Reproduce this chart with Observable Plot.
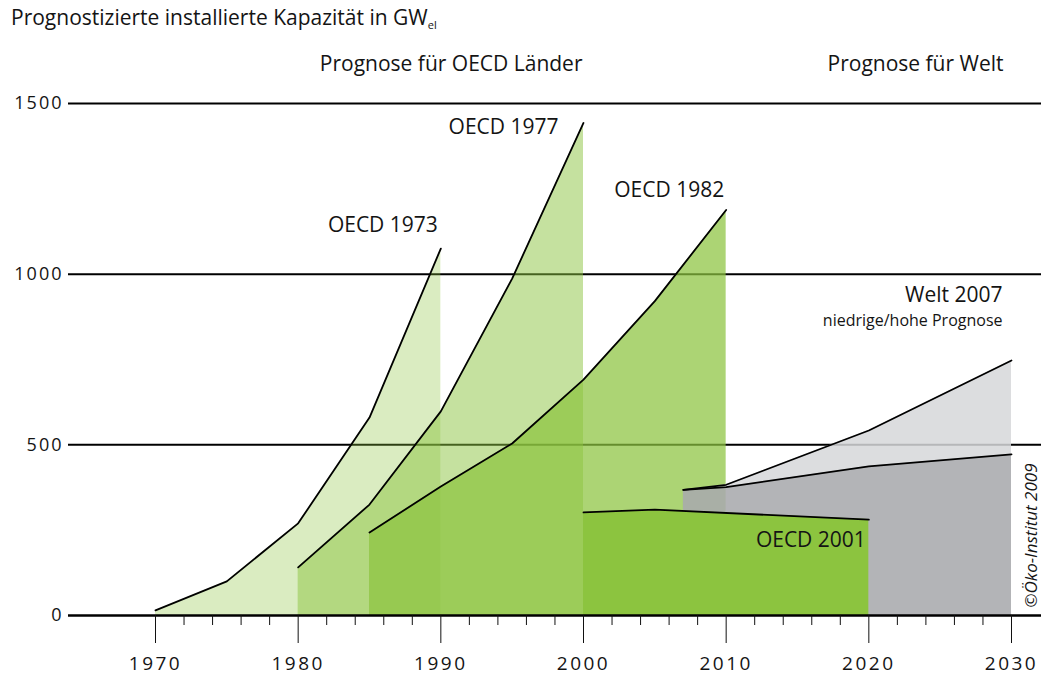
<!DOCTYPE html>
<html><head><meta charset="utf-8">
<script src="https://cdn.jsdelivr.net/npm/d3@7"></script>
<script src="https://cdn.jsdelivr.net/npm/@observablehq/plot@0.6"></script>
<style>
body{margin:0;background:#fff;font-family:'Open Sans',sans-serif;color:#141414;}
#title{height:38px;box-sizing:border-box;padding:7px 0 0 11px;font-size:21px;line-height:21px;white-space:nowrap;}
#title sub{font-size:11px;vertical-align:-4px;line-height:0;}
g[aria-label="y-axis tick label"] text{letter-spacing:2px;}
g[aria-label="x-axis tick label"] text{letter-spacing:2.5px;}
</style></head>
<body>
<div id="title">Prognostizierte installierte Kapazität in GW<sub>el</sub></div>
<div id="chart"></div>
<script>
// ---- data ----
const oecd1973Years = [1970, 1975, 1980, 1985, 1990];
const oecd1973 = [15, 100, 270, 580, 1075];
const oecd1977Years = [1980, 1985, 1990, 1995, 2000];
const oecd1977 = [141, 325, 598, 987, 1443];
const oecd1982Years = [1985, 1990, 1995, 2000, 2005, 2010];
const oecd1982 = [243, 378, 504, 691, 921, 1188];
const oecd2001Years = [2000, 2005, 2020];
const oecd2001 = [302, 310, 281];
const welt2007Years = [2007, 2010, 2020, 2030];
const welt2007Low = [368, 376, 437, 472];
const welt2007High = [368, 383, 542, 747];
const seriesNames = ["OECD 1973", "OECD 1977", "OECD 1982", "OECD 2001", "Welt 2007"];
const headers = ["Prognose für OECD Länder", "Prognose für Welt"];
const subLabel = "niedrige/hohe Prognose";
const credit = "©Öko-Institut 2009";
const yTicks = [0, 500, 1000, 1500];
const xMajorTicks = [1970, 1980, 1990, 2000, 2010, 2020, 2030];
const xMinorTicks = [1972, 1974, 1976, 1978, 1982, 1984, 1986, 1988, 1992, 1994, 1996, 1998,
  2002, 2004, 2006, 2008, 2012, 2014, 2016, 2018, 2022, 2024, 2026, 2028];

// ---- tables ----
const rows = (years, vals) => years.map((x, i) => ({x, y: vals[i]}));
const s1973 = rows(oecd1973Years, oecd1973);
const s1977 = rows(oecd1977Years, oecd1977);
const s1982 = rows(oecd1982Years, oecd1982);
const s2001 = rows(oecd2001Years, oecd2001);
const weltLow = rows(welt2007Years, welt2007Low);
const weltHigh = rows(welt2007Years, welt2007High);
const weltBand = welt2007Years.map((x, i) => ({x, lo: welt2007Low[i], hi: welt2007High[i]}));
const last = a => [a[a.length - 1]];

const green = "#8cc43f";
const ink = "#141414";
const font = "'Open Sans', sans-serif";
const lab = {textAnchor: "end", lineAnchor: "bottom", fontSize: 21, fill: ink, fontFamily: font};
const lineStyle = {x: "x", y: "y", stroke: "#000", strokeWidth: 1.8};

const chart = Plot.plot({
  width: 1041, height: 639,
  marginLeft: 68, marginRight: 0, marginTop: 65, marginBottom: 62,
  style: {fontFamily: font, background: "#fff", overflow: "visible"},
  x: {domain: [1970, 2030], range: [155, 1011], axis: null, label: null},
  y: {domain: [0, 1500], range: [577, 65], axis: null, label: null},
  marks: [
    Plot.ruleY(yTicks.filter(d => d > 0), {stroke: "#000", strokeWidth: 2}),
    Plot.areaY(s1973, {x: "x", y: "y", fill: green, fillOpacity: 0.32}),
    Plot.areaY(s1977, {x: "x", y: "y", fill: green, fillOpacity: 0.5}),
    Plot.areaY(s1982, {x: "x", y: "y", fill: green, fillOpacity: 0.72}),
    Plot.areaY(weltBand, {x: "x", y1: "lo", y2: "hi", fill: "#d6d7d9", fillOpacity: 0.85}),
    Plot.areaY(weltLow, {x: "x", y: "y", fill: "#a9aaad", fillOpacity: 0.88}),
    Plot.areaY(s2001, {x: "x", y: "y", fill: green}),
    Plot.line(s1973, lineStyle),
    Plot.line(s1977, lineStyle),
    Plot.line(s1982, lineStyle),
    Plot.line(s2001, lineStyle),
    Plot.line(weltHigh, lineStyle),
    Plot.line(weltLow, lineStyle),
    Plot.ruleY([0], {stroke: "#000", strokeWidth: 2.5}),
    Plot.axisY(yTicks, {tickSize: 0, tickPadding: 5, fontSize: 18, fill: ink, fontFamily: font,
      tickFormat: d => String(d), label: null}),
    Plot.axisX(xMajorTicks, {tickSize: 28, tickPadding: 13, fontSize: 19, fill: ink, fontFamily: font,
      stroke: "#111", strokeWidth: 1, tickFormat: d => String(d), label: null}),
    Plot.axisX(xMinorTicks, {tickSize: 10, tickPadding: 0, stroke: "#111", strokeWidth: 1,
      tickFormat: () => "", label: null}),
    // headers
    Plot.text([headers[0]], {...lab, x: () => xMajorTicks[3], frameAnchor: "top", dx: -1, dy: -33}),
    Plot.text([headers[1]], {...lab, x: () => xMajorTicks[6], frameAnchor: "top", dx: -8, dy: -33}),
    // series labels anchored at the end of each series
    Plot.text(last(s1973), {...lab, x: "x", y: "y", text: () => seriesNames[0], dx: -3, dy: -17}),
    Plot.text(last(s1977), {...lab, x: "x", y: "y", text: () => seriesNames[1], dx: -25, dy: 11}),
    Plot.text(last(s1982), {...lab, x: "x", y: "y", text: () => seriesNames[2], dx: -2, dy: -13}),
    Plot.text(last(s2001), {...lab, x: "x", y: "y", text: () => seriesNames[3], dx: -3, dy: 27}),
    Plot.text(last(weltHigh), {...lab, x: "x", y: "y", text: () => seriesNames[4], dx: -9, dy: -59}),
    Plot.text(last(weltHigh), {...lab, x: "x", y: "y", text: () => subLabel, fontSize: 16, dx: -9, dy: -35}),
    Plot.text([credit], {frameAnchor: "bottom-right", rotate: -90, textAnchor: "middle", lineAnchor: "bottom",
      fontStyle: "italic", fontSize: 17, fill: ink, fontFamily: font, dx: -5, dy: -80})
  ]
});
document.getElementById("chart").appendChild(chart);
</script>
</body></html>
